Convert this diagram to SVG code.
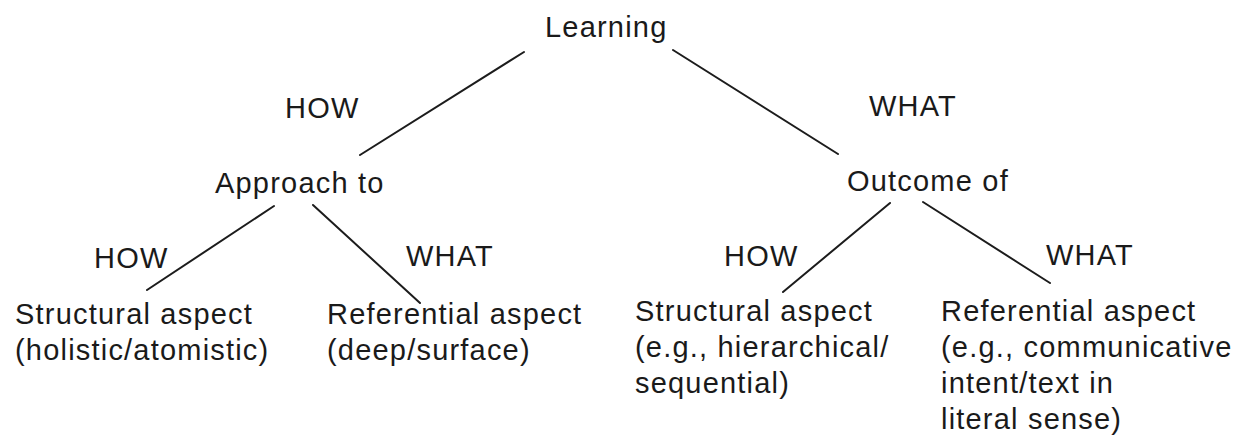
<svg xmlns="http://www.w3.org/2000/svg" width="1244" height="435" viewBox="0 0 1244 435">
<style>
text{font-family:"Liberation Sans",Arial,Helvetica,sans-serif;font-size:29px;fill:#1a1a1a;letter-spacing:1.2px}
.edge{stroke:#1c1c1c;stroke-width:2;fill:none;stroke-linecap:round}
</style>
<rect width="1244" height="435" fill="#ffffff"/>
<g id="connectors">
<line class="edge" x1="524" y1="52" x2="360" y2="155"/>
<line class="edge" x1="673" y1="50" x2="838" y2="154"/>
<line class="edge" x1="274" y1="206" x2="147" y2="290"/>
<line class="edge" x1="313" y1="205" x2="420" y2="303"/>
<line class="edge" x1="890" y1="203" x2="783" y2="292"/>
<line class="edge" x1="923" y1="202" x2="1050" y2="283"/>
</g>
<g id="edge-labels">
<text x="285" y="118">HOW</text>
<text x="869" y="116">WHAT</text>
<text x="94" y="268">HOW</text>
<text x="406" y="266">WHAT</text>
<text x="724" y="266">HOW</text>
<text x="1046" y="265">WHAT</text>
</g>
<g id="node-learning"><text x="545" y="37">Learning</text></g>
<g id="node-approach"><text x="215" y="193">Approach to</text></g>
<g id="node-outcome"><text x="847" y="191">Outcome of</text></g>
<g id="node-approach-structural">
<text x="15" y="324">Structural aspect</text>
<text x="15" y="360">(holistic/atomistic)</text>
</g>
<g id="node-approach-referential">
<text x="327" y="324">Referential aspect</text>
<text x="327" y="360">(deep/surface)</text>
</g>
<g id="node-outcome-structural">
<text x="635" y="321">Structural aspect</text>
<text x="635" y="357">(e.g., hierarchical/</text>
<text x="635" y="393">sequential)</text>
</g>
<g id="node-outcome-referential">
<text x="941" y="321">Referential aspect</text>
<text x="941" y="357">(e.g., communicative</text>
<text x="941" y="393">intent/text in</text>
<text x="941" y="429">literal sense)</text>
</g>
</svg>
